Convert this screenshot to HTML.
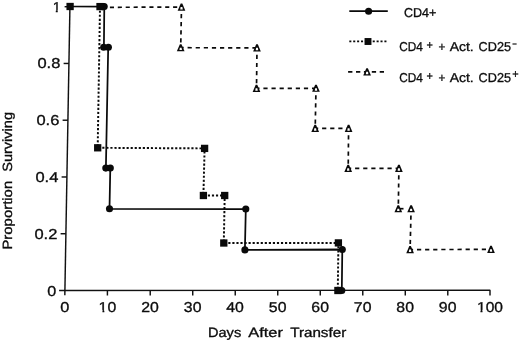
<!DOCTYPE html>
<html><head><meta charset="utf-8"><title>Survival</title>
<style>html,body{margin:0;padding:0;background:#fff;}svg{display:block;opacity:0.999;will-change:transform}text{font-family:"Liberation Sans",sans-serif;fill:#0c0c0c;stroke:#0c0c0c;stroke-width:0.32px;text-rendering:geometricPrecision;}</style></head><body>
<svg width="520" height="341" viewBox="0 0 520 341">
<rect width="520" height="341" fill="#fff"/>
<g>
<g stroke="#111" stroke-width="1.45" fill="none" stroke-linecap="butt">
<line x1="69.94" y1="6.0" x2="64.82" y2="295.2"/>
<line x1="59.1" y1="290.5" x2="490.3" y2="290.2"/>
<line x1="60.60" y1="233.74" x2="65.90" y2="233.74"/>
<line x1="61.61" y1="176.98" x2="66.91" y2="176.98"/>
<line x1="62.61" y1="120.22" x2="67.91" y2="120.22"/>
<line x1="63.62" y1="63.46" x2="68.92" y2="63.46"/>
<line x1="64.62" y1="6.70" x2="69.92" y2="6.70"/>
<line x1="107.41" y1="290.20" x2="107.41" y2="295.50"/>
<line x1="150.22" y1="290.20" x2="150.22" y2="295.50"/>
<line x1="192.73" y1="290.20" x2="192.73" y2="295.50"/>
<line x1="235.24" y1="290.20" x2="235.24" y2="295.50"/>
<line x1="277.75" y1="290.20" x2="277.75" y2="295.50"/>
<line x1="320.26" y1="290.20" x2="320.26" y2="295.50"/>
<line x1="362.77" y1="290.20" x2="362.77" y2="295.50"/>
<line x1="405.28" y1="290.20" x2="405.28" y2="295.50"/>
<line x1="447.79" y1="290.20" x2="447.79" y2="295.50"/>
<line x1="490.00" y1="290.20" x2="490.00" y2="295.50"/>
</g>
<text x="47.30" y="295.50" font-size="14.3" text-anchor="start" textLength="9.0" lengthAdjust="spacingAndGlyphs">0</text>
<text x="34.40" y="238.74" font-size="14.3" text-anchor="start" textLength="22.9" lengthAdjust="spacingAndGlyphs">0.2</text>
<text x="35.41" y="181.98" font-size="14.3" text-anchor="start" textLength="22.9" lengthAdjust="spacingAndGlyphs">0.4</text>
<text x="36.41" y="125.22" font-size="14.3" text-anchor="start" textLength="22.9" lengthAdjust="spacingAndGlyphs">0.6</text>
<text x="37.42" y="68.46" font-size="14.3" text-anchor="start" textLength="22.9" lengthAdjust="spacingAndGlyphs">0.8</text>
<text x="60.72" y="11.70" font-size="14.3" text-anchor="end">1</text>
<text x="60.35" y="312.4" font-size="14.3" text-anchor="start" textLength="9.100000000000001" lengthAdjust="spacingAndGlyphs">0</text>
<text x="98.61" y="312.4" font-size="14.3" text-anchor="start" textLength="17.6" lengthAdjust="spacingAndGlyphs">10</text>
<text x="141.32" y="312.4" font-size="14.3" text-anchor="start" textLength="17.6" lengthAdjust="spacingAndGlyphs">20</text>
<text x="183.83" y="312.4" font-size="14.3" text-anchor="start" textLength="17.6" lengthAdjust="spacingAndGlyphs">30</text>
<text x="226.34" y="312.4" font-size="14.3" text-anchor="start" textLength="17.6" lengthAdjust="spacingAndGlyphs">40</text>
<text x="268.85" y="312.4" font-size="14.3" text-anchor="start" textLength="17.6" lengthAdjust="spacingAndGlyphs">50</text>
<text x="311.36" y="312.4" font-size="14.3" text-anchor="start" textLength="17.6" lengthAdjust="spacingAndGlyphs">60</text>
<text x="353.87" y="312.4" font-size="14.3" text-anchor="start" textLength="17.6" lengthAdjust="spacingAndGlyphs">70</text>
<text x="396.38" y="312.4" font-size="14.3" text-anchor="start" textLength="17.6" lengthAdjust="spacingAndGlyphs">80</text>
<text x="438.89" y="312.4" font-size="14.3" text-anchor="start" textLength="17.6" lengthAdjust="spacingAndGlyphs">90</text>
<text x="477.00" y="312.4" font-size="14.3" text-anchor="start" textLength="26.0" lengthAdjust="spacingAndGlyphs">100</text>
<rect x="51.5" y="9.9" width="4.25" height="3.10" fill="#fff"/>
<rect x="57.75" y="9.9" width="3.75" height="3.10" fill="#fff"/>
<rect x="98.3" y="309.9" width="4.15" height="3.30" fill="#fff"/>
<rect x="104.35" y="309.9" width="3.45" height="3.30" fill="#fff"/>
<rect x="476.3" y="309.9" width="4.15" height="3.30" fill="#fff"/>
<rect x="482.5" y="309.9" width="3.10" height="3.30" fill="#fff"/>
<text x="208.0" y="337.2" font-size="13.4" text-anchor="start" textLength="33.2" lengthAdjust="spacingAndGlyphs">Days</text>
<text x="248.3" y="337.2" font-size="13.4" text-anchor="start" textLength="34.6" lengthAdjust="spacingAndGlyphs">After</text>
<text x="290.2" y="337.2" font-size="13.4" text-anchor="start" textLength="56.0" lengthAdjust="spacingAndGlyphs">Transfer</text>
<g transform="translate(12.1,249.6) rotate(-90)">
<text x="0" y="0" font-size="13.4" text-anchor="start" textLength="68.8" lengthAdjust="spacingAndGlyphs">Proportion</text>
<text x="77.8" y="0" font-size="13.4" text-anchor="start" textLength="59.8" lengthAdjust="spacingAndGlyphs">Surviving</text>
</g>
<polyline points="100.0,6.6 97.7,147.8 204.6,148.4 203.4,195.5 224.7,195.5 223.8,243.0 338.4,242.9 337.8,290.5" fill="none" stroke="#0a0a0a" stroke-width="1.95" stroke-dasharray="2.15 1.9"/>
<line x1="109.90" y1="7.30" x2="181.50" y2="7.10" stroke="#0a0a0a" stroke-width="1.7" stroke-dasharray="4.1 3.8" stroke-dashoffset="0"/>
<line x1="181.50" y1="7.10" x2="180.70" y2="47.70" stroke="#0a0a0a" stroke-width="1.7" stroke-dasharray="4.2 3.9" stroke-dashoffset="1.2"/>
<line x1="180.70" y1="47.70" x2="257.00" y2="47.90" stroke="#0a0a0a" stroke-width="1.7" stroke-dasharray="4.2 3.9" stroke-dashoffset="1.2"/>
<line x1="257.00" y1="47.90" x2="256.50" y2="88.40" stroke="#0a0a0a" stroke-width="1.7" stroke-dasharray="4.2 3.9" stroke-dashoffset="1.2"/>
<line x1="256.50" y1="88.40" x2="316.00" y2="88.30" stroke="#0a0a0a" stroke-width="1.7" stroke-dasharray="4.2 3.9" stroke-dashoffset="1.2"/>
<line x1="316.00" y1="88.30" x2="315.20" y2="128.40" stroke="#0a0a0a" stroke-width="1.7" stroke-dasharray="4.2 3.9" stroke-dashoffset="1.2"/>
<line x1="315.20" y1="128.40" x2="348.60" y2="128.40" stroke="#0a0a0a" stroke-width="1.7" stroke-dasharray="4.2 3.9" stroke-dashoffset="1.2"/>
<line x1="348.60" y1="128.40" x2="348.20" y2="168.40" stroke="#0a0a0a" stroke-width="1.7" stroke-dasharray="4.2 3.9" stroke-dashoffset="1.2"/>
<line x1="348.20" y1="168.40" x2="398.90" y2="168.40" stroke="#0a0a0a" stroke-width="1.7" stroke-dasharray="4.2 3.9" stroke-dashoffset="1.2"/>
<line x1="398.90" y1="168.40" x2="398.30" y2="208.70" stroke="#0a0a0a" stroke-width="1.7" stroke-dasharray="4.2 3.9" stroke-dashoffset="1.2"/>
<line x1="398.30" y1="208.70" x2="411.10" y2="208.70" stroke="#0a0a0a" stroke-width="1.7" stroke-dasharray="5.2 30" stroke-dashoffset="0"/>
<line x1="411.10" y1="208.70" x2="410.10" y2="249.60" stroke="#0a0a0a" stroke-width="1.7" stroke-dasharray="4.2 3.9" stroke-dashoffset="1.2"/>
<line x1="410.10" y1="249.60" x2="491.00" y2="249.40" stroke="#0a0a0a" stroke-width="1.7" stroke-dasharray="4.2 3.9" stroke-dashoffset="1.2"/>
<polyline points="70.1,6.5 104.3,6.6 103.9,47.3 108.2,47.3 105.9,168.1 110.3,168.1 109.5,208.8 245.8,209.0 244.9,249.8 342.3,249.5 341.8,290.5" fill="none" stroke="#0a0a0a" stroke-width="1.75" stroke-linejoin="miter"/>
<polygon points="180.70,3.55 182.30,3.55 185.35,10.65 177.65,10.65" fill="#0a0a0a"/>
<polygon points="180.60,7.05 182.40,7.05 182.75,9.45 180.25,9.45" fill="#fff"/>
<polygon points="179.90,44.15 181.50,44.15 184.55,51.25 176.85,51.25" fill="#0a0a0a"/>
<polygon points="179.80,47.65 181.60,47.65 181.95,50.05 179.45,50.05" fill="#fff"/>
<polygon points="256.20,44.35 257.80,44.35 260.85,51.45 253.15,51.45" fill="#0a0a0a"/>
<polygon points="256.10,47.85 257.90,47.85 258.25,50.25 255.75,50.25" fill="#fff"/>
<polygon points="255.70,84.85 257.30,84.85 260.35,91.95 252.65,91.95" fill="#0a0a0a"/>
<polygon points="255.60,88.35 257.40,88.35 257.75,90.75 255.25,90.75" fill="#fff"/>
<polygon points="315.20,84.75 316.80,84.75 319.85,91.85 312.15,91.85" fill="#0a0a0a"/>
<polygon points="315.10,88.25 316.90,88.25 317.25,90.65 314.75,90.65" fill="#fff"/>
<polygon points="314.40,124.85 316.00,124.85 319.05,131.95 311.35,131.95" fill="#0a0a0a"/>
<polygon points="314.30,128.35 316.10,128.35 316.45,130.75 313.95,130.75" fill="#fff"/>
<polygon points="347.80,124.85 349.40,124.85 352.45,131.95 344.75,131.95" fill="#0a0a0a"/>
<polygon points="347.70,128.35 349.50,128.35 349.85,130.75 347.35,130.75" fill="#fff"/>
<polygon points="347.40,164.85 349.00,164.85 352.05,171.95 344.35,171.95" fill="#0a0a0a"/>
<polygon points="347.30,168.35 349.10,168.35 349.45,170.75 346.95,170.75" fill="#fff"/>
<polygon points="398.10,164.85 399.70,164.85 402.75,171.95 395.05,171.95" fill="#0a0a0a"/>
<polygon points="398.00,168.35 399.80,168.35 400.15,170.75 397.65,170.75" fill="#fff"/>
<polygon points="397.50,205.15 399.10,205.15 402.15,212.25 394.45,212.25" fill="#0a0a0a"/>
<polygon points="397.40,208.65 399.20,208.65 399.55,211.05 397.05,211.05" fill="#fff"/>
<polygon points="410.30,205.15 411.90,205.15 414.95,212.25 407.25,212.25" fill="#0a0a0a"/>
<polygon points="410.20,208.65 412.00,208.65 412.35,211.05 409.85,211.05" fill="#fff"/>
<polygon points="409.30,246.05 410.90,246.05 413.95,253.15 406.25,253.15" fill="#0a0a0a"/>
<polygon points="409.20,249.55 411.00,249.55 411.35,251.95 408.85,251.95" fill="#fff"/>
<polygon points="490.20,245.85 491.80,245.85 494.85,252.95 487.15,252.95" fill="#0a0a0a"/>
<polygon points="490.10,249.35 491.90,249.35 492.25,251.75 489.75,251.75" fill="#fff"/>
<circle cx="104.2" cy="6.6" r="3.55" fill="#0a0a0a"/>
<circle cx="102.6" cy="6.6" r="3.55" fill="#0a0a0a"/>
<circle cx="103.7" cy="47.3" r="3.55" fill="#0a0a0a"/>
<circle cx="108.4" cy="47.3" r="3.55" fill="#0a0a0a"/>
<circle cx="105.8" cy="168.1" r="3.55" fill="#0a0a0a"/>
<circle cx="110.3" cy="168.1" r="3.55" fill="#0a0a0a"/>
<circle cx="109.5" cy="208.8" r="3.55" fill="#0a0a0a"/>
<circle cx="245.8" cy="209.0" r="3.55" fill="#0a0a0a"/>
<circle cx="244.9" cy="249.9" r="3.55" fill="#0a0a0a"/>
<circle cx="342.3" cy="249.5" r="3.55" fill="#0a0a0a"/>
<circle cx="341.8" cy="290.5" r="3.55" fill="#0a0a0a"/>
<rect x="66.45" y="2.85" width="7.3" height="7.3" fill="#0a0a0a"/>
<rect x="96.35" y="2.95" width="7.3" height="7.3" fill="#0a0a0a"/>
<rect x="94.05" y="144.15" width="7.3" height="7.3" fill="#0a0a0a"/>
<rect x="200.95" y="144.75" width="7.3" height="7.3" fill="#0a0a0a"/>
<rect x="199.75" y="191.85" width="7.3" height="7.3" fill="#0a0a0a"/>
<rect x="221.05" y="191.85" width="7.3" height="7.3" fill="#0a0a0a"/>
<rect x="220.15" y="239.35" width="7.3" height="7.3" fill="#0a0a0a"/>
<rect x="334.75" y="239.25" width="7.3" height="7.3" fill="#0a0a0a"/>
<rect x="334.25" y="286.85" width="7.3" height="7.3" fill="#0a0a0a"/>
<line x1="349.3" y1="11.1" x2="387.8" y2="11.1" stroke="#0a0a0a" stroke-width="1.6"/>
<circle cx="368.6" cy="11.2" r="3.55" fill="#0a0a0a"/>
<line x1="349.3" y1="41.3" x2="386.6" y2="41.3" stroke="#0a0a0a" stroke-width="1.85" stroke-dasharray="2.05 1.85"/>
<rect x="364.55" y="38.05" width="6.9" height="6.9" fill="#0a0a0a"/>
<line x1="348.1" y1="71.9" x2="384.0" y2="71.9" stroke="#0a0a0a" stroke-width="1.7" stroke-dasharray="4.3 3.6"/>
<polygon points="366.30,68.35 367.90,68.35 370.95,75.45 363.25,75.45" fill="#0a0a0a"/>
<polygon points="366.20,71.85 368.00,71.85 368.35,74.25 365.85,74.25" fill="#fff"/>
<text x="404.0" y="17.4" font-size="12.9" text-anchor="start" textLength="32.4" lengthAdjust="spacingAndGlyphs">CD4+</text>
<text x="399.2" y="50.9" font-size="12.9" text-anchor="start" textLength="23.6" lengthAdjust="spacingAndGlyphs">CD4</text>
<text x="426.5" y="49.3" font-size="12" text-anchor="start" textLength="6.4" lengthAdjust="spacingAndGlyphs">+</text>
<text x="438.6" y="50.9" font-size="12.4" text-anchor="start" textLength="6.8" lengthAdjust="spacingAndGlyphs">+</text>
<text x="449.7" y="50.9" font-size="12.9" text-anchor="start" textLength="24.0" lengthAdjust="spacingAndGlyphs">Act.</text>
<text x="478.6" y="50.9" font-size="12.9" text-anchor="start" textLength="32.4" lengthAdjust="spacingAndGlyphs">CD25</text>
<text x="512.3" y="47.699999999999996" font-size="12" text-anchor="start" textLength="4.6" lengthAdjust="spacingAndGlyphs">&#8722;</text>
<text x="399.2" y="81.5" font-size="12.9" text-anchor="start" textLength="23.6" lengthAdjust="spacingAndGlyphs">CD4</text>
<text x="426.5" y="79.9" font-size="12" text-anchor="start" textLength="6.4" lengthAdjust="spacingAndGlyphs">+</text>
<text x="438.6" y="81.5" font-size="12.4" text-anchor="start" textLength="6.8" lengthAdjust="spacingAndGlyphs">+</text>
<text x="449.7" y="81.5" font-size="12.9" text-anchor="start" textLength="24.0" lengthAdjust="spacingAndGlyphs">Act.</text>
<text x="478.6" y="81.5" font-size="12.9" text-anchor="start" textLength="32.4" lengthAdjust="spacingAndGlyphs">CD25</text>
<text x="512.3" y="78.3" font-size="12" text-anchor="start" textLength="6.4" lengthAdjust="spacingAndGlyphs">+</text>
</g>
</svg></body></html>
